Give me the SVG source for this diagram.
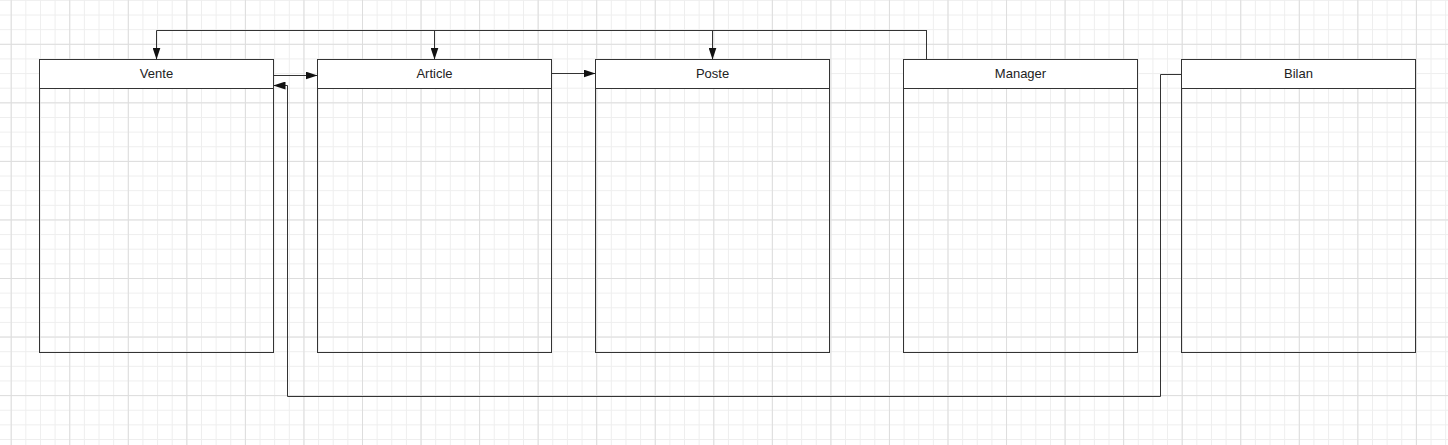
<svg xmlns="http://www.w3.org/2000/svg" width="1448" height="445" viewBox="0 0 1448 445">
  <style>
    .box { fill: none; stroke: #333333; stroke-width: 1; }
    .head { fill: #ffffff; stroke: #333333; stroke-width: 1; }
    .label { font-family: "Liberation Sans", Arial, sans-serif; font-size: 13px; fill: #222222; text-anchor: middle; }
    .conn { fill: none; stroke: #333333; stroke-width: 1; }
  </style>
  <defs>
    <pattern id="minor" patternUnits="userSpaceOnUse" x="10.7" y="43.8" width="14.6375" height="14.6375">
      <rect x="0" y="0" width="1" height="14.6375" fill="#eeeeee"/>
      <rect x="0" y="0" width="14.6375" height="1" fill="#eeeeee"/>
    </pattern>
    <pattern id="major" patternUnits="userSpaceOnUse" x="10.7" y="43.8" width="58.55" height="58.55">
      <rect x="0" y="0" width="1" height="58.55" fill="#dddddd"/>
      <rect x="0" y="0" width="58.55" height="1" fill="#dddddd"/>
    </pattern>
    <marker id="arrow" markerUnits="userSpaceOnUse" markerWidth="12" markerHeight="8" refX="12" refY="4" orient="auto">
      <path d="M0,0 L12,4 L0,8 z" fill="#111111"/>
    </marker>
  </defs>
  <rect width="1448" height="445" fill="#ffffff"/>
  <rect width="1448" height="445" fill="url(#minor)"/>
  <rect width="1448" height="445" fill="url(#major)"/>

  <g id="vente">
    <rect class="box" x="39.5" y="59.5" width="234" height="293"/>
    <rect class="head" x="39.5" y="59.5" width="234" height="29"/>
    <text class="label" x="156.5" y="78">Vente</text>
  </g>
  <g id="article">
    <rect class="box" x="317.5" y="59.5" width="234" height="293"/>
    <rect class="head" x="317.5" y="59.5" width="234" height="29"/>
    <text class="label" x="434.5" y="78">Article</text>
  </g>
  <g id="poste">
    <rect class="box" x="595.5" y="59.5" width="234" height="293"/>
    <rect class="head" x="595.5" y="59.5" width="234" height="29"/>
    <text class="label" x="712.5" y="78">Poste</text>
  </g>
  <g id="manager">
    <rect class="box" x="903.5" y="59.5" width="234" height="293"/>
    <rect class="head" x="903.5" y="59.5" width="234" height="29"/>
    <text class="label" x="1020.5" y="78">Manager</text>
  </g>
  <g id="bilan">
    <rect class="box" x="1181.5" y="59.5" width="234" height="293"/>
    <rect class="head" x="1181.5" y="59.5" width="234" height="29"/>
    <text class="label" x="1298.5" y="78">Bilan</text>
  </g>

  <g id="connectors">
    <path class="conn" d="M273.5,75.5 H317.5" marker-end="url(#arrow)"/>
    <path class="conn" d="M551.5,73.5 H595.5" marker-end="url(#arrow)"/>
    <path class="conn" d="M926.5,59.5 V30.5 H156.5 V59.5" marker-end="url(#arrow)"/>
    <path class="conn" d="M926.5,59.5 V30.5 H434.5 V59.5" marker-end="url(#arrow)"/>
    <path class="conn" d="M926.5,59.5 V30.5 H712.5 V59.5" marker-end="url(#arrow)"/>
    <path class="conn" d="M1181.5,74.5 H1160.5 V396.5 H287.5 V85.5 H273.5" marker-end="url(#arrow)"/>
  </g>
</svg>
